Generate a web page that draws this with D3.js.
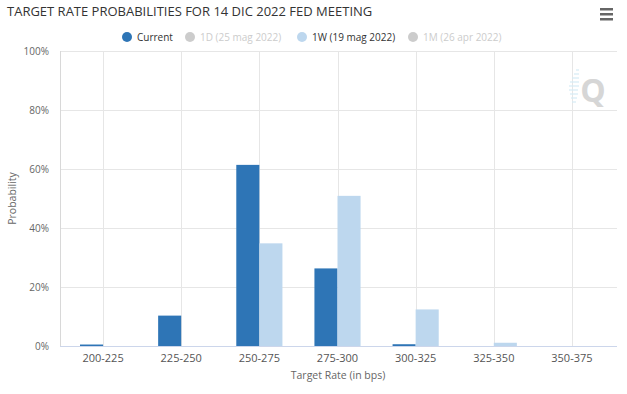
<!DOCTYPE html>
<html>
<head>
<meta charset="utf-8">
<script src="https://cdn.jsdelivr.net/npm/d3@7"></script>
<style>
  body { margin: 0; background: #fff; }
  svg { font-family: "Open Sans", "DejaVu Sans", sans-serif; }
</style>
</head>
<body>
<svg id="chart" width="627" height="394"></svg>
<script>
var categories = ["200-225", "225-250", "250-275", "275-300", "300-325", "325-350", "350-375"];
var current = [0.5, 10.3, 61.4, 26.3, 0.6, 0, 0];
var oneWeek = [0, 0, 34.8, 50.9, 12.4, 1.1, 0];
var yTicks = [0, 20, 40, 60, 80, 100];
var legendItems = [
  {name: "Current", color: "#2e75b6", text: "#333", off: false},
  {name: "1D (25 mag 2022)", color: "#cccccc", text: "#cccccc", off: true},
  {name: "1W (19 mag 2022)", color: "#bdd7ee", text: "#333", off: false},
  {name: "1M (26 apr 2022)", color: "#cccccc", text: "#cccccc", off: true}
];

var svg = d3.select("#chart");

var plotLeft = 60, plotRight = 617, plotTop = 51, plotBottom = 346;

var x = d3.scaleBand()
  .domain(categories)
  .range([64, 611]);

var y = d3.scaleLinear()
  .domain([0, 100])
  .range([plotBottom, plotTop]);

// horizontal grid
svg.append("g")
  .selectAll("line")
  .data(yTicks)
  .enter().append("line")
  .attr("x1", plotLeft)
  .attr("x2", plotRight)
  .attr("y1", d => Math.round(y(d)) + 0.5)
  .attr("y2", d => Math.round(y(d)) + 0.5)
  .style("stroke", d => d === 0 ? "#ccd6eb" : "#e6e6e6");

// vertical grid at category centers
svg.append("g")
  .selectAll("line")
  .data(categories)
  .enter().append("line")
  .attr("x1", d => Math.round(x(d) + x.bandwidth() / 2) + 0.5)
  .attr("x2", d => Math.round(x(d) + x.bandwidth() / 2) + 0.5)
  .attr("y1", plotTop)
  .attr("y2", plotBottom)
  .style("stroke", "#e6e6e6");

// left axis line
svg.append("line")
  .attr("x1", plotLeft + 0.5).attr("x2", plotLeft + 0.5)
  .attr("y1", plotTop).attr("y2", plotBottom)
  .style("stroke", "#d8d8d8");

// watermark
var wm = svg.append("g").attr("transform", "translate(580,86)");
[[-4, -16, 3], [-6, -12, 5], [-8, -8, 7], [-10, -4, 9], [-11, 0, 10], [-11, 4, 9], [-10, 8, 8], [-9, 12, 6], [-8, 16, 4]].forEach(function(s) {
  wm.append("line")
    .attr("x1", s[0]).attr("x2", s[0] + s[2])
    .attr("y1", s[1]).attr("y2", s[1])
    .style("stroke", "#d6ebf5").style("stroke-width", 1.2);
});
wm.append("text")
  .attr("x", 13).attr("y", 16)
  .attr("text-anchor", "middle")
  .style("font-size", "32px")
  .style("font-weight", "bold")
  .style("fill", "#d6d6d6")
  .text("Q");

// bars
var inner = d3.scaleBand()
  .domain(["current", "oneWeek"])
  .range([16, x.bandwidth() - 16]);

var series = [
  {key: "current", values: current, color: "#2e75b6"},
  {key: "oneWeek", values: oneWeek, color: "#bdd7ee"}
];

series.forEach(function(s) {
  svg.append("g")
    .selectAll("rect")
    .data(s.values)
    .enter().append("rect")
    .attr("x", (d, i) => x(categories[i]) + inner(s.key))
    .attr("width", inner.bandwidth())
    .attr("y", d => y(d))
    .attr("height", d => plotBottom - y(d))
    .style("fill", s.color);
});

// y axis labels
svg.append("g")
  .selectAll("text")
  .data(yTicks)
  .enter().append("text")
  .attr("x", 49)
  .attr("y", d => y(d) + 4)
  .attr("text-anchor", "end")
  .style("font-size", "10px")
  .style("fill", "#666")
  .text(d => d + "%");

svg.append("text")
  .attr("transform", "translate(16," + ((plotTop + plotBottom) / 2) + ") rotate(-90)")
  .attr("text-anchor", "middle")
  .style("font-size", "10.5px")
  .style("fill", "#666")
  .text("Probability");

// x axis labels
svg.append("g")
  .selectAll("text")
  .data(categories)
  .enter().append("text")
  .attr("x", d => x(d) + x.bandwidth() / 2)
  .attr("y", 362)
  .attr("text-anchor", "middle")
  .style("font-size", "11px")
  .style("fill", "#555")
  .text(d => d);

svg.append("text")
  .attr("x", 338)
  .attr("y", 379)
  .attr("text-anchor", "middle")
  .style("font-size", "10.5px")
  .style("fill", "#666")
  .text("Target Rate (in bps)");

// title
svg.append("text")
  .attr("x", 7)
  .attr("y", 16)
  .style("font-size", "13px")
  .style("fill", "#333")
  .text("TARGET RATE PROBABILITIES FOR 14 DIC 2022 FED MEETING");

// menu icon
[0, 5, 10].forEach(function(dy) {
  svg.append("rect")
    .attr("x", 600).attr("y", 8 + dy)
    .attr("width", 13).attr("height", 2.5)
    .style("fill", "#666");
});

// legend
var legendX = [127, 190, 302, 413];
var legend = svg.append("g");
legendItems.forEach(function(item, i) {
  legend.append("circle")
    .attr("cx", legendX[i])
    .attr("cy", 37)
    .attr("r", 5)
    .style("fill", item.color);
  legend.append("text")
    .attr("x", legendX[i] + 10)
    .attr("y", 41)
    .style("font-size", "10px")
    .style("fill", item.text)
    .text(item.name);
});
</script>
</body>
</html>
